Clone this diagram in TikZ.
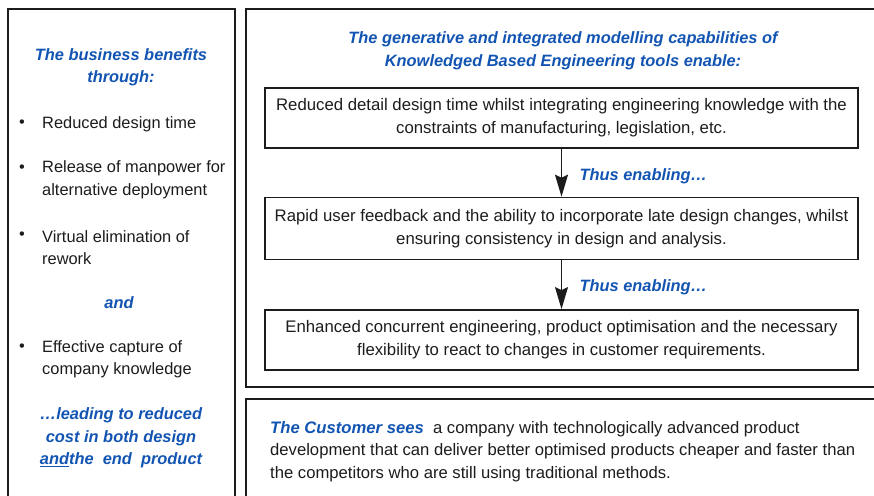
\documentclass[tikz,border=0pt]{standalone}
\usepackage{fontspec}
\setmainfont{Liberation Sans}
\usetikzlibrary{positioning, arrows.meta}

\definecolor{kbeblue}{RGB}{18,84,178}
\definecolor{ink}{RGB}{28,28,28}

\begin{document}
\begin{tikzpicture}[x=1pt, y=-1pt, node distance=48pt,
    font=\fontsize{16.4}{22.5}\selectfont, text=ink,
    panel/.style={draw=ink, line width=1.3pt},
    stage/.style={rectangle, draw=ink, line width=1.4pt, minimum width=593pt, minimum height=60pt, align=center, inner sep=0pt, font=\fontsize{16.75}{22.8}\selectfont},
    hint/.style={text=kbeblue, font=\fontsize{16.4}{22.5}\selectfont\bfseries\itshape},
    item/.style={anchor=west, align=left, inner sep=0pt},
    dot/.style={anchor=center, inner sep=0pt},
    enables/.style={-{Stealth[length=22pt, width=13pt, inset=3pt]}, line width=1.4pt, draw=ink}]
    \useasboundingbox (0,0) rectangle (874,495);
    \clip (0,0) rectangle (874,495);

    % frames
    \draw [panel] (8,9) rectangle (235,510);
    \draw [panel] (246,9) rectangle (890,387);
    \draw [panel] (246,399) rectangle (890,510);

    % benefits column
    \node [hint, align=center] (benefits) at (121,67.5) {The business benefits\\through:};
    \node [item] (time) at (42,124) {Reduced design time};
    \node [item] (manpower) at (42,180) {Release of manpower for\\alternative deployment};
    \node [item] (rework) at (42,247.5) {Virtual elimination of\\rework};
    \node [hint] (and) at (119,303) {and};
    \node [item] (capture) at (42,359.5) {Effective capture of\\company knowledge};
    \node [hint, align=center] (cost) at (121,438) {\ldots leading to reduced\\cost in both design\\\underline{and}the\ \ end\ \ product};
    \foreach \y in {124,169,236,348}
        \node [dot] at (22,\y) {\textbullet};

    % KBE chain
    \node [hint, align=center] (kbe) at (563,51) {The generative and integrated modelling capabilities of\\Knowledged Based Engineering tools enable:};
    \node [stage] (detail) at (561.5,118) {Reduced detail design time whilst integrating engineering knowledge with the\\constraints of manufacturing, legislation, etc.};
    \node [stage, minimum height=62pt, below=48pt of detail] (feedback) {Rapid user feedback and the ability to incorporate late design changes, whilst\\ensuring consistency in design and analysis.};
    \node [stage, below=49pt of feedback] (concurrent) {Enhanced concurrent engineering, product optimisation and the necessary\\flexibility to react to changes in customer requirements.};

    \draw [enables, xshift=-2pt] (detail) -- node [hint, right=14pt, yshift=-4pt] {Thus enabling\ldots} (feedback);
    \draw [enables, xshift=-2pt] (feedback) -- node [hint, right=14pt, yshift=-3pt] {Thus enabling\ldots} (concurrent);

    % customer view
    \node [item, anchor=north west, font=\fontsize{16.65}{22.6}\selectfont] (customer) at (270,421) {{\color{kbeblue}\bfseries\itshape The Customer sees}\ \ a company with technologically advanced product\\development that can deliver better optimised products cheaper and faster than\\the competitors who are still using traditional methods.};
\end{tikzpicture}
\end{document}
